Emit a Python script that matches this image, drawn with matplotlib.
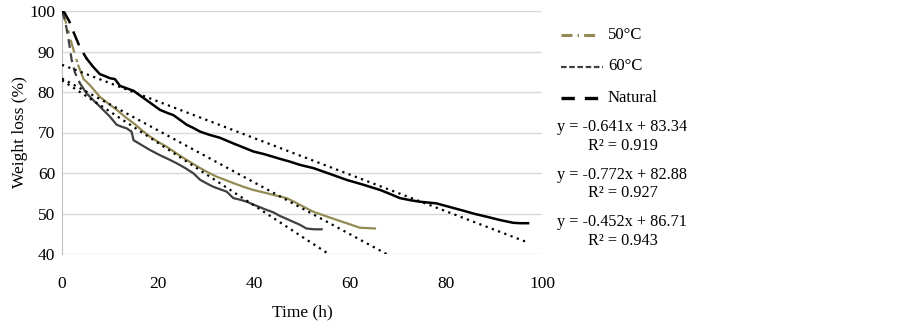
import matplotlib
matplotlib.use("Agg")
import matplotlib.pyplot as plt
from matplotlib.lines import Line2D
import numpy as np

plt.rcParams['font.family'] = ['Liberation Serif', 'DejaVu Serif']

# ---- data ----
# Natural drying
nat_x = [0, 0.5, 1.5, 2.5, 3.75, 5.1, 6.5, 7.9, 9, 10, 11, 12.1, 13.5, 14.9, 16.3, 17.6, 19, 20.4, 22, 23.2,
         24.6, 26, 27.4, 28.8, 30.8, 32.9, 34.3, 35.7, 37.8, 39.9, 42, 44, 45.4, 47.5, 49.6, 52.4, 56, 59.3,
         62.8, 66.3, 68.4, 70.4, 72.5, 74.6, 76.3, 78, 80.8, 83.6, 86, 88.5, 91.2, 94, 95.5, 97.1]
nat_y = [100, 99.6, 97.5, 94.5, 91, 88.3, 86.2, 84.4, 83.9, 83.4, 83.2, 81.5, 80.9, 80.3, 79.1, 78, 76.8,
         75.6, 74.8, 74.3, 73.1, 71.9, 71.1, 70.2, 69.4, 68.7, 68, 67.3, 66.3, 65.3, 64.7, 64, 63.5, 62.8,
         62, 61.2, 59.7, 58.3, 57.1, 55.8, 54.8, 53.8, 53.3, 52.9, 52.7, 52.5, 51.6, 50.7, 49.9, 49.2,
         48.4, 47.7, 47.6, 47.6]
nat_break = 5  # index where dashed start segment ends

# 50 degC
t50_x = [0, 1, 2, 3.4, 4.5, 5.8, 7.9, 9.6, 11.4, 13.1, 14.9, 16.6, 18.3, 20, 21.8, 23.9, 26, 27.4, 28.8,
         30.5, 32.2, 34, 35.7, 37.8, 39.9, 42, 44, 45.4, 46.8, 48.2, 49.6, 52.4, 55.8, 59.3, 62, 63.6, 65.2]
t50_y = [100, 96.5, 92, 86.5, 83.2, 81.7, 78.8, 77.2, 75.6, 73.9, 72.3, 70.6, 69, 67.7, 66.5, 64.8, 63.2,
         62.2, 61.2, 60.1, 59.1, 58.3, 57.5, 56.6, 55.8, 55.2, 54.6, 54.2, 53.8, 53, 52.1, 50.4, 49, 47.6,
         46.5, 46.4, 46.3]
t50_break = 3

# 60 degC
t60_x = [0, 0.6, 1.3, 2, 2.7, 3.75, 5.1, 6.5, 7.9, 10, 11.4, 12.5, 13.5, 14.5, 14.9, 16.6, 18.3, 20.4, 22.2,
         23.9, 25.7, 27.4, 28.8, 30.2, 31.5, 32.9, 34.3, 35.7, 37.1, 38.5, 40.5, 42.6, 44, 45.4, 47.5,
         49.6, 50.9, 52.5, 54.1]
t60_y = [100, 97.8, 93.5, 88, 84.8, 82.1, 79.7, 78, 76.4, 73.9, 71.9, 71.4, 71, 70.2, 68.1, 66.9, 65.7,
         64.4, 63.4, 62.4, 61.2, 59.9, 58.3, 57.4, 56.6, 56, 55.4, 53.8, 53.4, 52.9, 51.9, 50.9, 50.3,
         49.4, 48.3, 47.2, 46.3, 46.1, 46.1]
t60_break = 5

# linear trend lines: slope, intercept, R^2, end x
trend_labels = ["50°C", "60°C", "Natural"]
trend_slope = [-0.641, -0.772, -0.452]
trend_icpt = [83.34, 82.88, 86.71]
trend_r2 = [0.919, 0.927, 0.943]
trend_xend = [67.6, 55.5, 97.1]

xticks = [0, 20, 40, 60, 80, 100]
yticks = [40, 50, 60, 70, 80, 90, 100]

c50 = '#948A54'
c60 = '#404040'
cnat = '#000000'

fig = plt.figure(figsize=(9.03, 3.25), dpi=100)
ax = fig.add_axes([62/903, 1-254/325, (542-62)/903, (254-11)/325])
ax.set_xlim(0, 100)
ax.set_ylim(40, 100)
ax.set_xticks(xticks)
ax.set_yticks(yticks)
ax.grid(axis='y', color='#d9d9d9', linewidth=1)
ax.set_axisbelow(True)
for s in ['top', 'right', 'bottom']:
    ax.spines[s].set_visible(False)
ax.spines['left'].set_color('#bfbfbf')
ax.tick_params(axis='both', length=0, labelsize=12.5, pad=5)
ax.tick_params(axis='x', pad=16)
ax.set_xlabel('Time (h)', fontsize=12.5, labelpad=9)
ax.set_ylabel('Weight loss (%)', fontsize=12.5, labelpad=1)

series = [(t50_x, t50_y, t50_break, c50, (0, (6, 3, 1.5, 3)), 1.6),
          (t60_x, t60_y, t60_break, c60, (0, (4, 2.5)), 1.6),
          (nat_x, nat_y, nat_break, cnat, (0, (6, 3.5)), 1.8)]

for xs, ys, b, col, ls, lw in series:
    ax.plot(xs[:b+1], ys[:b+1], color=col, linestyle=ls, linewidth=lw, zorder=3)
    ax.plot(xs[b:], ys[b:], color=col, linestyle='-', linewidth=lw, zorder=3)

for m, c, xe in zip(trend_slope, trend_icpt, trend_xend):
    xx = np.array([0, xe])
    ax.plot(xx, m*xx + c, color='black', linestyle=(0, (1, 2)), linewidth=1.6, zorder=4)

# legend (manual)
leg_y = [1-35/325, 1-66.5/325, 1-97.5/325]
leg_styles = [(c50, (0, (3.6, 1.65, 0.5, 1.65)), 2.2), (c60, (0, (2.5, 1.2)), 1.6), (cnat, (0, (4, 3)), 2.4)]
leg_x1 = [598, 603, 603]
for yy, lab, (col, ls, lw), x1 in zip(leg_y, trend_labels, leg_styles, leg_x1):
    fig.add_artist(Line2D([561/903, x1/903], [yy, yy], transform=fig.transFigure,
                          color=col, linestyle=ls, linewidth=lw))
    fig.text(608/903, yy, lab, fontsize=12, va='center', ha='left')

eq_y = [126.7, 175, 221.7]
r2_y = [145.7, 193.3, 240.7]
for m, c, r2, ey, ry in zip(trend_slope, trend_icpt, trend_r2, eq_y, r2_y):
    fig.text(557/903, 1-ey/325, f"y = {m:.3f}x + {c:.2f}", fontsize=11.7, va='center', ha='left')
    fig.text(588/903, 1-ry/325, f"R² = {r2:.3f}", fontsize=11.7, va='center', ha='left')

fig.savefig('out.png', dpi=100)
